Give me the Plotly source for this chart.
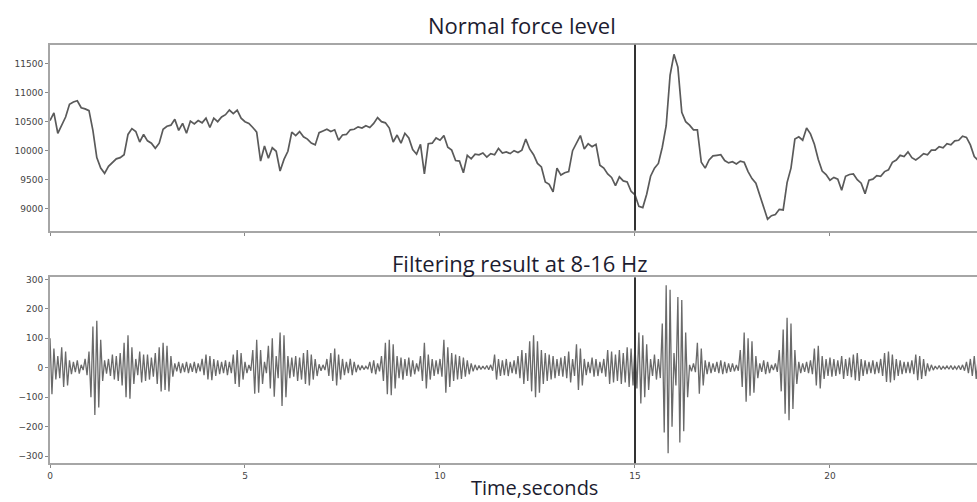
import plotly.graph_objects as go
from plotly.subplots import make_subplots

# ---- data ----
force_dt = 0.1  # seconds between samples of the normal-force trace
force_values = [
    10520, 10650, 10300, 10450, 10580, 10800, 10840, 10860, 10740, 10720,
    10690, 10350, 9880, 9700, 9610, 9730, 9790, 9860, 9880, 9930,
    10280, 10380, 10330, 10150, 10280, 10170, 10130, 10040, 10130, 10370,
    10420, 10440, 10540, 10350, 10470, 10300, 10510, 10460, 10520, 10480,
    10560, 10400, 10560, 10500, 10580, 10620, 10700, 10640, 10700, 10560,
    10500, 10470, 10400, 10320, 9820, 10080, 9870, 10050, 9990, 9650,
    9850, 9990, 10320, 10260, 10330, 10240, 10200, 10130, 10100, 10310,
    10340, 10370, 10330, 10360, 10180, 10270, 10280, 10360, 10370, 10410,
    10390, 10430, 10400, 10470, 10570, 10500, 10480, 10390, 10150, 10270,
    10130, 10300, 10220, 10020, 9940, 10110, 9600, 10120, 10130, 10220,
    10180, 10260, 10060, 10010, 9830, 9820, 9620, 9920, 9860, 9940,
    9930, 9960, 9890, 9950, 9930, 10040, 9960, 9980, 9950, 10000,
    9970, 10010, 10200, 10030, 9930, 9780, 9720, 9460, 9420, 9290,
    9700, 9580, 9620, 9640, 10000, 10120, 10260, 10030, 10120, 10070,
    10110, 9750, 9700, 9600, 9540, 9400, 9550, 9480, 9460, 9300,
    9240, 9040, 9020, 9250, 9560, 9700, 9780, 10060, 10430, 11300,
    11660, 11440, 10660, 10500, 10440, 10360, 10360, 9800, 9700, 9840,
    9910, 9920, 9930, 9830, 9790, 9810, 9770, 9820, 9800, 9640,
    9520, 9440, 9230, 9020, 8820, 8880, 8900, 8990, 8980, 9450,
    9700, 10200, 10240, 10180, 10390, 10290, 10110, 9850, 9650, 9590,
    9490, 9540, 9510, 9320, 9560, 9590, 9600, 9500, 9440, 9260,
    9490, 9510, 9570, 9560, 9640, 9670, 9800, 9840, 9920, 9900,
    9980, 9880, 9840, 9890, 9950, 9930, 10010, 10010, 10070, 10050,
    10120, 10100, 10170, 10180, 10250, 10230, 10100, 9900, 9830,
]

filt_dt = 0.05  # seconds between successive peaks/troughs of the 8-16 Hz trace
filt_values = [
    100, -90, 65, -40, 40, -35, 70, -65, 55, -60, 25, -22, 20, -15, 25, -20, 10, -8, 30, -25,
    55, -100, 140, -160, 160, -135, 95, -45, 25, -20, 30, -28, 45, -40, 40, -45, 50, -60, 85, -100,
    110, -105, 70, -55, 30, -25, 55, -50, 45, -45, 45, -40, 35, -30, 50, -55, 70, -80, 85, -75,
    75, -80, 40, -30, 15, -12, 20, -18, 15, -15, 20, -18, 15, -14, 20, -18, 15, -12, 30, -25,
    45, -40, 40, -42, 30, -28, 25, -22, 20, -18, 25, -25, 20, -18, 45, -55, 60, -65, 50, -40,
    20, -18, 10, -10, 60, -88, 95, -85, 60, -55, 20, -18, 75, -70, 100, -98, 40, -35, 120, -130,
    110, -100, 40, -35, 35, -30, 40, -45, 35, -40, 50, -55, 60, -60, 45, -40, 30, -28, 12, -10,
    10, -8, 30, -28, 50, -45, 65, -60, 45, -40, 30, -25, 20, -18, 30, -25, 20, -15, 10, -8,
    8, -6, 5, -5, 20, -18, 25, -22, 15, -12, 40, -45, 85, -90, 95, -93, 80, -70, 40, -35,
    35, -40, 30, -28, 35, -30, 25, -22, 15, -12, 40, -45, 85, -70, 45, -40, 30, -28, 25, -22,
    30, -30, 95, -85, 70, -65, 50, -45, 45, -40, 40, -38, 35, -30, 25, -22, 15, -12, 10, -8,
    8, -6, 6, -5, 8, -7, 10, -10, 45, -40, 30, -28, 25, -25, 30, -28, 20, -18, 25, -22,
    40, -35, 60, -55, 50, -45, 90, -80, 110, -100, 90, -85, 60, -55, 50, -45, 45, -40, 40, -35,
    30, -28, 35, -30, 40, -35, 55, -50, 30, -28, 80, -75, 65, -60, 30, -25, 20, -18, 35, -30,
    30, -28, 20, -18, 30, -30, 60, -55, 55, -50, 45, -45, 60, -55, 50, -50, 70, -65, 65, -60,
    75, -70, 120, -121, 110, -100, 80, -75, 30, -28, 45, -40, 30, -35, 150, -220, 280, -290, 265, -200,
    50, -60, 240, -254, 230, -215, 120, -100, 10, -12, 15, -15, 85, -88, 65, -60, 25, -22, 20, -18,
    15, -14, 20, -18, 25, -22, 20, -18, 15, -14, 15, -12, 10, -10, 60, -65, 120, -115, 100, -95,
    90, -85, 40, -35, 15, -14, 25, -22, 20, -18, 10, -8, 15, -14, 60, -80, 130, -156, 170, -178,
    150, -140, 60, -55, 20, -18, 15, -14, 20, -18, 25, -22, 65, -60, 75, -70, 40, -38, 30, -28,
    35, -30, 30, -28, 25, -22, 40, -38, 30, -28, 35, -32, 45, -42, 50, -45, 30, -28, 25, -22,
    20, -18, 25, -22, 20, -18, 30, -28, 50, -48, 55, -50, 45, -42, 30, -28, 25, -22, 20, -18,
    20, -18, 25, -22, 45, -42, 40, -38, 30, -28, 15, -12, 10, -8, 6, -5, 8, -6, 5, -4,
    6, -5, 8, -6, 5, -5, 8, -7, 10, -10, 20, -18, 30, -28, 40, -38, 35, -32,
]

event_time = 15
top_title = "Normal force level"
bottom_title = "Filtering result at 8-16 Hz"
x_title = "Time,seconds"
x_ticks = [0, 5, 10, 15, 20]
force_ticks = [9000, 9500, 10000, 10500, 11000, 11500]
filt_ticks = [-300, -200, -100, 0, 100, 200, 300]

force_t = [i * force_dt for i in range(len(force_values))]
filt_t = [i * filt_dt for i in range(len(filt_values))]

# ---- figure ----
W, H = 977, 502
fig = make_subplots(rows=2, cols=1, shared_xaxes=False)

fig.add_trace(go.Scatter(x=force_t, y=force_values, mode="lines",
                         line=dict(color="#5a5a5a", width=1.7), showlegend=False),
              row=1, col=1)
fig.add_trace(go.Scatter(x=filt_t, y=filt_values, mode="lines",
                         line=dict(color="#6a6a6a", width=1.3), showlegend=False),
              row=2, col=1)

frame = "#a6a6a6"
tickfont = dict(family="DejaVu Sans", size=9, color="#444444")
common_x = dict(range=[0, 23.77], showline=True, mirror=True, linecolor=frame, linewidth=2,
                ticks="outside", ticklen=3, tickcolor="#888888", tickvals=x_ticks,
                ticktext=[str(v) for v in x_ticks],
                showgrid=False, zeroline=False, tickfont=tickfont)
fig.update_xaxes(**common_x, showticklabels=False, row=1, col=1)
fig.update_xaxes(**common_x, showticklabels=True, row=2, col=1)

common_y = dict(showline=True, mirror=False, linecolor=frame, linewidth=2,
                ticks="outside", ticklen=3, tickcolor="#888888", showgrid=False,
                zeroline=False, tickfont=tickfont)
fig.update_yaxes(**common_y, range=[8623, 11825], tickvals=force_ticks,
                 ticktext=[str(v) for v in force_ticks],
                 domain=[(H - 229) / H, (H - 42) / H], row=1, col=1)
fig.update_yaxes(**common_y, range=[-324, 307], tickvals=filt_ticks,
                 ticktext=[str(v).replace("-", "\u2212") for v in filt_ticks],
                 domain=[(H - 463) / H, (H - 276) / H], row=2, col=1)

for xr, yr in (("x", "y domain"), ("x2", "y2 domain")):
    fig.add_shape(type="line", xref=xr, yref=yr, x0=event_time, x1=event_time, y0=0, y1=1,
                  line=dict(color="#333333", width=2))

left = 50
pw = W - left
title_font = dict(family="Open Sans", size=22, color="#1c1c30")
fig.add_annotation(text=top_title, xref="paper", yref="paper", x=(522 - left) / pw,
                   y=(H - 22) / H, showarrow=False, font=title_font, xanchor="center", yanchor="middle")
fig.add_annotation(text=bottom_title, xref="paper", yref="paper", x=(520 - left) / pw,
                   y=(H - 262) / H, showarrow=False, font=title_font, xanchor="center", yanchor="middle")
fig.add_annotation(text=x_title, xref="paper", yref="paper", x=(534 - left) / pw,
                   y=(H - 487) / H, showarrow=False,
                   font=dict(family="Open Sans", size=20, color="#1c1c30"),
                   xanchor="center", yanchor="middle")

fig.update_layout(width=W, height=H, margin=dict(l=left, r=0, t=0, b=0),
                  paper_bgcolor="white", plot_bgcolor="white")

fig.write_html("out.html", config={"displayModeBar": False},
               post_script="document.body.style.margin='0px';document.body.style.overflow='hidden';")
